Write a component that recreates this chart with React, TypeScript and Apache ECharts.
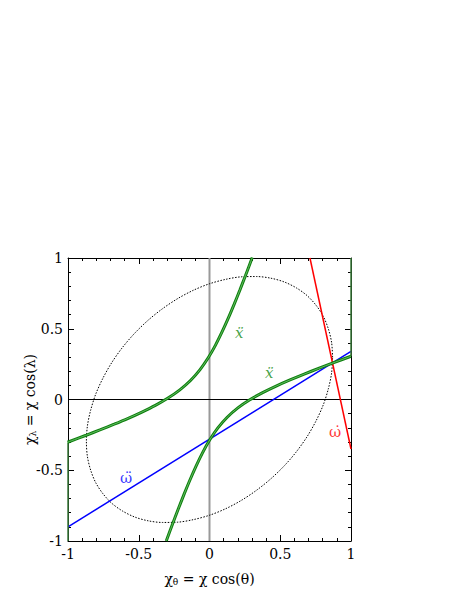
import React, { useEffect, useRef } from "react";
import * as echarts from "echarts";

const FONT = "DejaVu Serif";

// dotted ellipse (chi_theta, chi_lambda) points
const ellipse: number[][] = [
  [0.87, 0.298], [0.863, 0.402], [0.84, 0.499], [0.804, 0.588], [0.753, 0.666], [0.69, 0.734],
  [0.615, 0.788], [0.53, 0.83], [0.435, 0.857], [0.333, 0.869], [0.225, 0.867], [0.114, 0.849],
  [0.0, 0.818], [-0.114, 0.772], [-0.225, 0.713], [-0.333, 0.641], [-0.435, 0.559], [-0.53, 0.467],
  [-0.615, 0.368], [-0.69, 0.262], [-0.753, 0.151], [-0.804, 0.038], [-0.84, -0.076], [-0.863, -0.188],
  [-0.87, -0.298], [-0.863, -0.402], [-0.84, -0.499], [-0.804, -0.588], [-0.753, -0.666], [-0.69, -0.734],
  [-0.615, -0.788], [-0.53, -0.83], [-0.435, -0.857], [-0.333, -0.869], [-0.225, -0.867], [-0.114, -0.849],
  [0.0, -0.818], [0.114, -0.772], [0.225, -0.713], [0.333, -0.641], [0.435, -0.559], [0.53, -0.467],
  [0.615, -0.368], [0.69, -0.262], [0.753, -0.151], [0.804, -0.038], [0.84, 0.076], [0.863, 0.188],
  [0.87, 0.298],
];

// green curves (x double-dot)
const greenUpper: number[][] = [
  [-1.0032, -0.3022], [-0.8767, -0.2546], [-0.7748, -0.2152], [-0.6739, -0.1746], [-0.5744, -0.1327],
  [-0.4772, -0.0885], [-0.3827, -0.0416], [-0.293, 0.0101], [-0.2096, 0.0682], [-0.1344, 0.1344],
  [-0.0682, 0.2096], [-0.0101, 0.293], [0.0416, 0.3827], [0.0885, 0.4772], [0.1327, 0.5744],
  [0.1746, 0.6739], [0.2152, 0.7748], [0.2546, 0.8767], [0.3022, 1.0032],
];
const greenLower: number[][] = [
  [1.0, 0.3056], [0.8729, 0.2585], [0.7705, 0.2194], [0.6691, 0.1795], [0.5689, 0.1382],
  [0.4708, 0.0949], [0.3756, 0.0486], [0.2848, -0.002], [0.2006, -0.0592], [0.1252, -0.1252],
  [0.0592, -0.2006], [0.002, -0.2848], [-0.0486, -0.3756], [-0.0949, -0.4708], [-0.1382, -0.5689],
  [-0.1795, -0.6691], [-0.2194, -0.7705], [-0.2585, -0.8729], [-0.3056, -1.0],
];
const greenEdgeLeft: number[][] = [[-1, -1], [-1, -0.305]];
const greenEdgeRight: number[][] = [[1, 0.305], [1, 1]];

// straight lines
const omegaDDot: number[][] = [[-1, -0.9], [1, 0.34]];
const omegaDot: number[][] = [[0.71, 1], [1, -0.35]];

const zeroV: number[][] = [[0, -1], [0, 1]];
const zeroH: number[][] = [[-1, 0], [1, 0]];

// curve labels
const labelTexts = ["x\u0308", "x\u0308", "\u03C9\u0308", "\u03C9\u0307"];
const labelPos: number[][] = [[0.211, 0.468], [0.423, 0.185], [-0.59, -0.557], [0.887, -0.228]];
const labelColors = ["#138a13", "#138a13", "#0000ff", "#ff0000"];
const labelItalic = [true, true, false, false];

const AXIS_MIN = -1;
const AXIS_MAX = 1;
const AXIS_STEP = 0.5;

export default function App() {
  const ref = useRef<HTMLDivElement>(null);
  useEffect(() => {
    if (!ref.current) return;
    const chart = echarts.init(ref.current, null, { renderer: "svg" });

    const axisCommon = {
      type: "value" as const,
      min: AXIS_MIN,
      max: AXIS_MAX,
      interval: AXIS_STEP,
      axisLine: { show: true, onZero: false, lineStyle: { color: "#000", width: 1 } },
      axisTick: { show: true, inside: true, length: 6, lineStyle: { color: "#000" } },
      minorTick: { show: true, splitNumber: 5, length: 3, lineStyle: { color: "#000" } },
      splitLine: { show: false },
      minorSplitLine: { show: false },
    };

    const lineSeries = (data: number[][], color: string, width: number, extra: any = {}) => ({
      type: "line",
      data,
      showSymbol: false,
      symbol: "none",
      lineStyle: { color, width, ...(extra.lineStyle || {}) },
      smooth: extra.smooth ?? false,
      z: extra.z ?? 2,
      silent: true,
      clip: true,
    });

    const richName = {
      v: { fontFamily: FONT, fontSize: 14, color: "#000" },
      s: { fontFamily: FONT, fontSize: 9, color: "#000", padding: [6, 0, 0, 0] },
    };

    chart.setOption({
      animation: false,
      backgroundColor: "#fff",
      textStyle: { fontFamily: FONT },
      grid: { left: 68, top: 258, width: 283, height: 283 },
      xAxis: [
        {
          ...axisCommon,
          position: "bottom",
          axisLabel: { show: true, color: "#000", fontFamily: FONT, fontSize: 14, margin: 6 },
          name: "{v|\u03C7}{s|\u03B8}{v| = \u03C7 cos(\u03B8)}",
          nameLocation: "middle",
          nameGap: 30,
          nameTextStyle: { fontFamily: FONT, fontSize: 14, color: "#000", rich: richName },
        },
        { ...axisCommon, position: "top", axisLabel: { show: false } },
      ],
      yAxis: [
        {
          ...axisCommon,
          position: "left",
          axisLabel: { show: true, color: "#000", fontFamily: FONT, fontSize: 14, margin: 5 },
          name: "{v|\u03C7}{s|\u03BB}{v| = \u03C7 cos(\u03BB)}",
          nameLocation: "middle",
          nameGap: 31,
          nameMoveOverlap: false,
          nameTextStyle: { fontFamily: FONT, fontSize: 14, color: "#000", rich: richName },
        },
        { ...axisCommon, position: "right", axisLabel: { show: false } },
      ],
      series: [
        lineSeries(zeroV, "#999999", 2, { z: 1 }),
        lineSeries(zeroH, "#000000", 1, { z: 1 }),
        lineSeries(ellipse, "#000000", 1, { smooth: 0.3, lineStyle: { type: [1.5, 1.5] } }),
        lineSeries(omegaDDot, "#0000ff", 1.5),
        lineSeries(omegaDot, "#ff0000", 1.5),
        lineSeries(greenEdgeLeft, "#3a7a3a", 1.5, { z: 3 }),
        lineSeries(greenEdgeRight, "#3a7a3a", 1.5, { z: 3 }),
        lineSeries(greenUpper, "#0e800e", 3, { smooth: 0.3, z: 3 }),
        lineSeries(greenUpper, "#6cbf6c", 0.9, { smooth: 0.3, z: 4 }),
        lineSeries(greenLower, "#0e800e", 3, { smooth: 0.3, z: 3 }),
        lineSeries(greenLower, "#6cbf6c", 0.9, { smooth: 0.3, z: 4 }),
        {
          type: "scatter",
          symbolSize: 0,
          z: 5,
          silent: true,
          data: labelTexts.map((t, i) => ({
            value: labelPos[i],
            name: t,
            label: {
              show: true,
              position: "inside",
              formatter: "{b}",
              color: labelColors[i],
              fontFamily: FONT,
              fontSize: 15,
              fontStyle: labelItalic[i] ? "italic" : "normal",
            },
          })),
        },
      ],
    });
    return () => chart.dispose();
  }, []);
  return (
    <div
      ref={ref}
      style={{ position: "fixed", left: 0, top: 0, width: 463, height: 599 }}
    />
  );
}
